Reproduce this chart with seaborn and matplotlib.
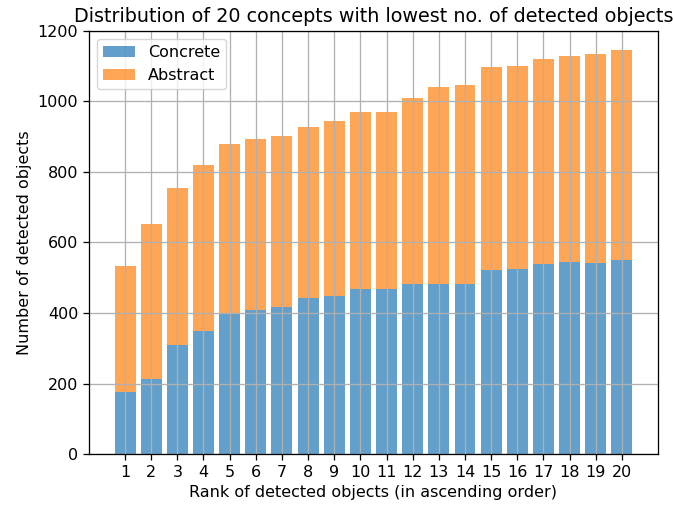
import matplotlib
matplotlib.use("Agg")
import matplotlib.pyplot as plt
import seaborn as sns
import pandas as pd

# Rank of each concept (ascending by number of detected objects)
ranks = list(range(1, 21))
# Detected objects per concept, split into concrete and abstract
concrete = [177, 212, 310, 349, 399, 410, 417, 443, 449, 468,
            468, 483, 483, 483, 521, 524, 540, 544, 543, 550]
abstract = [356, 441, 444, 470, 479, 482, 484, 484, 495, 501,
            501, 525, 557, 564, 575, 575, 581, 585, 590, 595]

df = pd.DataFrame({"rank": ranks, "concrete": concrete, "abstract": abstract})

scale = 1.15
plt.rcParams.update({
    "font.size": 10 * scale,
    "axes.titlesize": 12 * scale,
    "axes.linewidth": 0.8 * scale,
    "grid.linewidth": 0.8 * scale,
    "xtick.major.width": 0.8 * scale,
    "ytick.major.width": 0.8 * scale,
    "xtick.major.size": 3.5 * scale,
    "ytick.major.size": 3.5 * scale,
})

fig = plt.figure(figsize=(6.73, 5.08), dpi=100)
ax = fig.add_axes([0.1318, 0.1057, 0.8462, 0.8339])

sns.barplot(data=df, x="rank", y="concrete", native_scale=True, color="C0",
            saturation=1, alpha=0.7, errorbar=None, width=0.8,
            label="Concrete", ax=ax)
sns.barplot(data=df, x="rank", y="abstract", native_scale=True, color="C1",
            saturation=1, alpha=0.7, errorbar=None, width=0.8,
            bottom=df["concrete"], label="Abstract", ax=ax)

ax.set_xticks(ranks)
ax.set_xticklabels([str(r) for r in ranks])
ax.set_xlim(-0.39, 21.39)
ax.set_ylim(0, 1200)
ax.set_yticks(range(0, 1201, 200))
ax.grid(True)
ax.set_xlabel("Rank of detected objects (in ascending order)")
ax.set_ylabel("Number of detected objects")
ax.set_title("Distribution of 20 concepts with lowest no. of detected objects")
ax.legend(loc="upper left")

fig.savefig("out.png", dpi=100)
